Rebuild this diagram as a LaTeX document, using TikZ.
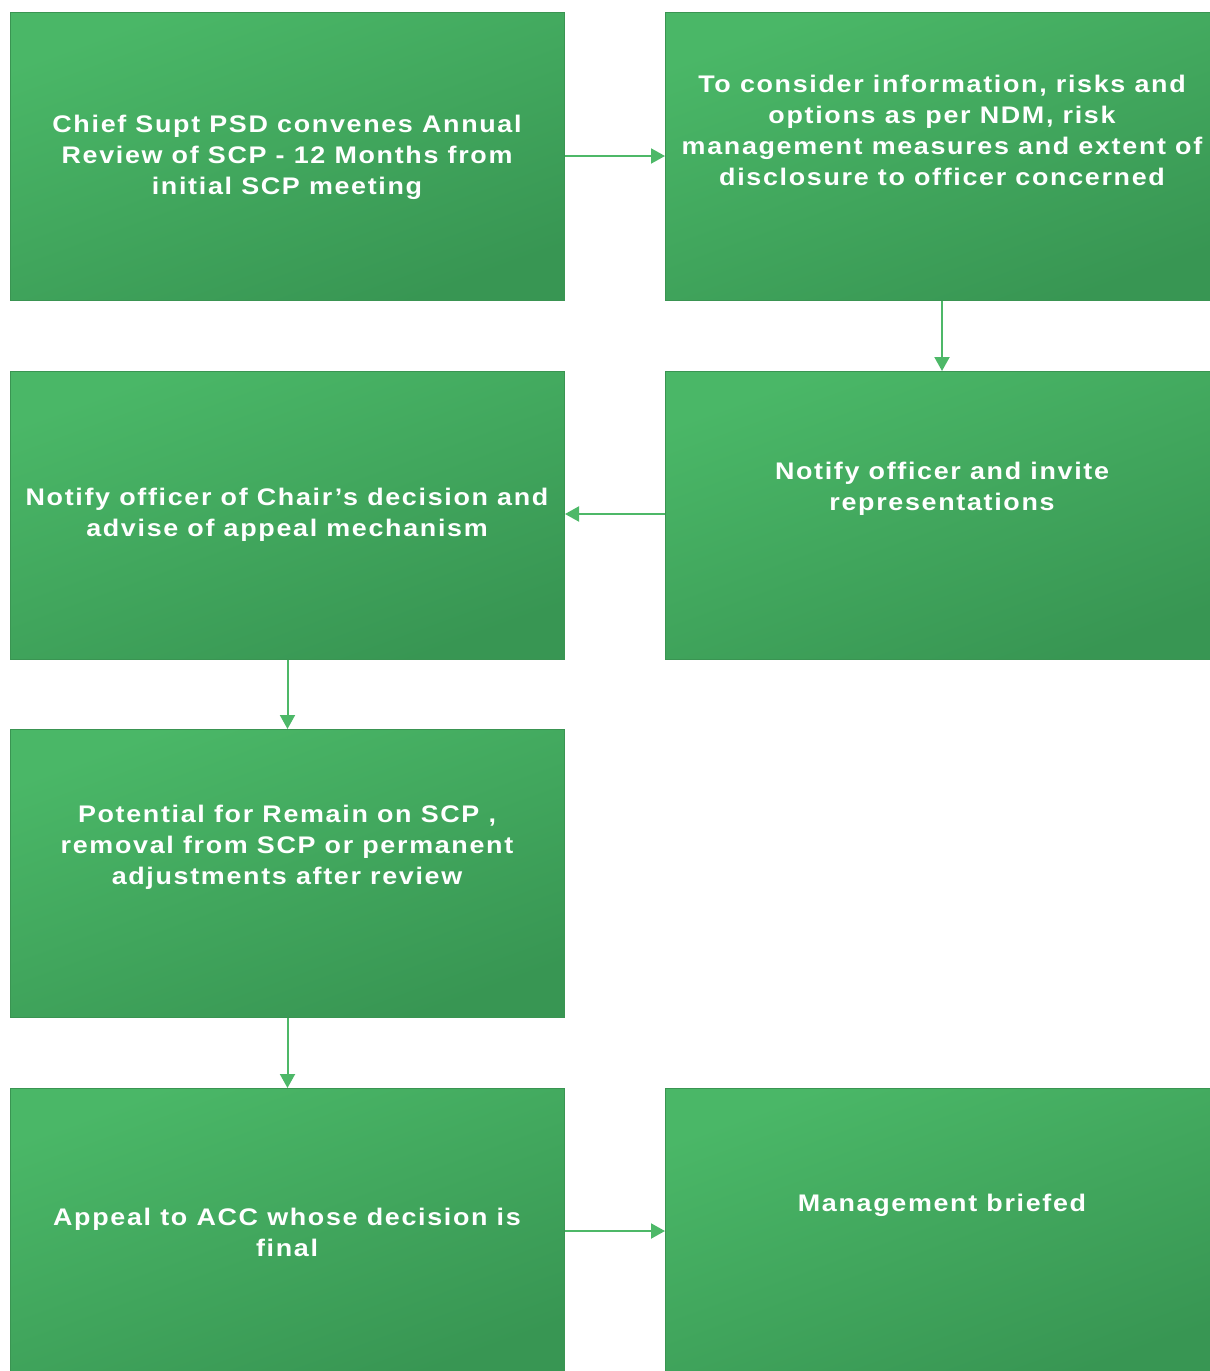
\documentclass[tikz,border=0pt]{standalone}
\usepackage{fontspec}
\newfontfamily\boxfont{Liberation Sans}[LetterSpace=7, FakeStretch=1.12]
\usetikzlibrary{arrows.meta}
\definecolor{gtop}{HTML}{4AB767}
\definecolor{gbot}{HTML}{389653}
\definecolor{gedge}{HTML}{3A9452}
\definecolor{garrow}{HTML}{4DB868}
\tikzset{
  box/.style={rectangle, draw=gedge, line width=1pt, top color=gtop, bottom color=gbot, shading angle=20, minimum width=554pt, minimum height=288pt, inner sep=0pt, anchor=north west},
  boxtext/.style={text=white, align=center, inner sep=0pt, font=\boxfont\bfseries\fontsize{24}{31}\selectfont},
  flow/.style={draw=garrow, line width=2pt, -{Triangle[length=14pt,width=15pt]}}
}
\begin{document}
\begin{tikzpicture}[x=1pt,y=-1pt]
\useasboundingbox (0,0) rectangle (1210,1371);
% boxes
\node[box] (b1) at (10,12) {};
\node[box] (b2) at (665,12) {};
\node[box] (b3) at (665,371) {};
\node[box] (b4) at (10,371) {};
\node[box] (b5) at (10,729) {};
\node[box] (b6) at (10,1088) {};
\node[box] (b7) at (665,1088) {};
% texts
\node[boxtext] (t1) at (287,157) {Chief Supt PSD convenes Annual\\Review of SCP - 12 Months from\\initial SCP meeting};
\node[boxtext] (t2) at (942,130) {To consider information, risks and\\options as per NDM, risk\\management measures and extent of\\disclosure to officer concerned};
\node[boxtext] (t3) at (942,489) {Notify officer and invite\\representations};
\node[boxtext] (t4) at (287,515) {Notify officer of Chair’s decision and\\advise of appeal mechanism};
\node[boxtext] (t5) at (287,847) {Potential for Remain on SCP ,\\removal from SCP or permanent\\adjustments after review};
\node[boxtext] (t6) at (287,1232) {Appeal to ACC whose decision is\\final};
\node[boxtext] (t7) at (942,1205) {Management briefed};
% connectors
\draw[flow] (b1.east |- 0,156) -- (b2.west |- 0,156);
\draw[flow] (b2.south -| 942,0) -- (b3.north -| 942,0);
\draw[flow] (b3.west |- 0,514) -- (b4.east |- 0,514);
\draw[flow] (b4.south) -- (b5.north);
\draw[flow] (b5.south) -- (b6.north);
\draw[flow] (b6.east |- 0,1231) -- (b7.west |- 0,1231);
\end{tikzpicture}
\end{document}
